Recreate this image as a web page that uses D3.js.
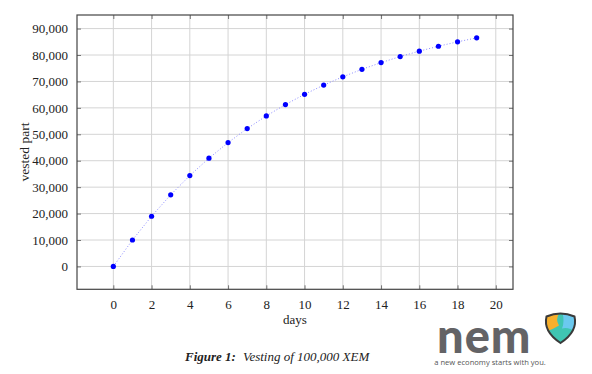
<!DOCTYPE html>
<html>
<head>
<meta charset="utf-8">
<script src="https://cdn.jsdelivr.net/npm/d3@7"></script>
<style>
  body { margin: 0; background: #fff; }
  svg { display: block; }
</style>
</head>
<body>
<svg id="chart" width="592" height="374"></svg>
<script>
// days and vested amount (10% of the unvested part vests each day)
var days = [0,1,2,3,4,5,6,7,8,9,10,11,12,13,14,15,16,17,18,19];
var vested = [0, 10000, 19000, 27100, 34390, 40951, 46856, 52170, 56953, 61258,
              65132, 68619, 71757, 74581, 77123, 79411, 81470, 83323, 84991, 86491];
var x_ticks = [0,2,4,6,8,10,12,14,16,18,20];
var y_ticks = [0,10000,20000,30000,40000,50000,60000,70000,80000,90000];

var svg = d3.select("#chart");
var plot_l = 77, plot_r = 513, plot_t = 15, plot_b = 289.3;

//pgfplots style: limits enlarged by 10% of the data range
var x = d3.scaleLinear().domain([-1.9, 20.9]).range([plot_l, plot_r]);
var y = d3.scaleLinear().domain([-8649, 95140]).range([plot_b, plot_t]);

var serif = "'Liberation Serif', 'DejaVu Serif', serif";

//Grid lines
svg.append("g").selectAll("line")
  .data(x_ticks).enter().append("line")
  .attr("x1", d => x(d)).attr("x2", d => x(d))
  .attr("y1", plot_t).attr("y2", plot_b)
  .attr("stroke", "#d4d4d4").attr("stroke-width", 1);

svg.append("g").selectAll("line")
  .data(y_ticks).enter().append("line")
  .attr("x1", plot_l).attr("x2", plot_r)
  .attr("y1", d => y(d)).attr("y2", d => y(d))
  .attr("stroke", "#d4d4d4").attr("stroke-width", 1);

//Axes with inward ticks on all four sides
var axB = svg.append("g").attr("transform", "translate(0," + plot_b + ")")
  .call(d3.axisBottom(x).tickValues(x_ticks).tickSizeInner(-4).tickSizeOuter(0).tickPadding(10));
var axT = svg.append("g").attr("transform", "translate(0," + plot_t + ")")
  .call(d3.axisTop(x).tickValues(x_ticks).tickSizeInner(-4).tickSizeOuter(0).tickFormat(""));
var axL = svg.append("g").attr("transform", "translate(" + plot_l + ",0)")
  .call(d3.axisLeft(y).tickValues(y_ticks).tickSizeInner(-4).tickSizeOuter(0).tickPadding(9)
    .tickFormat(d3.format(",")));
var axR = svg.append("g").attr("transform", "translate(" + plot_r + ",0)")
  .call(d3.axisRight(y).tickValues(y_ticks).tickSizeInner(-4).tickSizeOuter(0).tickFormat(""));

[axB, axT, axL, axR].forEach(function(a) {
  a.select(".domain").remove();
  a.selectAll(".tick line").attr("stroke", "#555").attr("stroke-width", 0.8);
  a.selectAll("text").attr("font-family", serif).attr("font-size", 13).attr("fill", "#222");
});

//Frame
svg.append("rect")
  .attr("x", plot_l).attr("y", plot_t)
  .attr("width", plot_r - plot_l).attr("height", plot_b - plot_t)
  .attr("fill", "none").attr("stroke", "#444").attr("stroke-width", 1.2);

//Dotted line + marks
var line = d3.line().x((d, i) => x(days[i])).y(d => y(d));
svg.append("path")
  .datum(vested)
  .attr("d", line)
  .attr("fill", "none")
  .attr("stroke", "#8c8cff")
  .attr("stroke-width", 1)
  .attr("stroke-dasharray", "1,2");

svg.append("g").selectAll("circle")
  .data(vested).enter().append("circle")
  .attr("cx", (d, i) => x(days[i]))
  .attr("cy", d => y(d))
  .attr("r", 2.6)
  .attr("fill", "#0000ff");

//Axis labels
svg.append("text")
  .attr("x", (plot_l + plot_r) / 2).attr("y", 324)
  .attr("text-anchor", "middle")
  .attr("font-family", serif).attr("font-size", 13).attr("fill", "#222")
  .text("days");

svg.append("text")
  .attr("transform", "translate(29,152) rotate(-90)")
  .attr("text-anchor", "middle")
  .attr("font-family", serif).attr("font-size", 13.5).attr("fill", "#222")
  .text("vested part");

//Caption
var cap = svg.append("text")
  .attr("x", 185).attr("y", 361)
  .attr("font-family", serif).attr("font-size", 13).attr("fill", "#222");
cap.append("tspan").attr("font-weight", "bold").attr("font-style", "italic").text("Figure 1:");
cap.append("tspan").attr("font-style", "italic").attr("dx", 7).text("Vesting of 100,000 XEM");

//Logo
svg.append("text")
  .attr("x", 437).attr("y", 353)
  .attr("font-family", "Lato, 'Open Sans', sans-serif")
  .attr("font-weight", 900).attr("font-size", 47)
  .attr("letter-spacing", 1)
  .attr("fill", "#636366")
  .text("nem");

svg.append("text")
  .attr("x", 490).attr("y", 364.5)
  .attr("text-anchor", "middle")
  .attr("font-family", "'Open Sans', sans-serif")
  .attr("font-size", 7.6).attr("fill", "#555")
  .text("a new economy starts with you.");

var shield = svg.append("g").attr("transform", "translate(545,312.5)");
var shieldPath = "M1.5,4 Q15.5,-2 29.5,4 Q33,19 15.5,30.5 Q-2,19 1.5,4 Z";
shield.append("clipPath").attr("id", "shieldClip")
  .append("path").attr("d", shieldPath);
var sw = shield.append("g").attr("clip-path", "url(#shieldClip)");
sw.append("rect").attr("x", -2).attr("y", -2).attr("width", 36).attr("height", 36).attr("fill", "#3fc5b2");
sw.append("path").attr("d", "M-2,-2 L17,-2 Q9,5 14,13 Q8,17 -2,20 Z").attr("fill", "#f7af2c");
sw.append("path").attr("d", "M17,-2 L34,-2 L34,22 Q25,14 17,16 Q20,9 17,-2 Z").attr("fill", "#6bc9ef");
shield.append("path").attr("d", shieldPath)
  .attr("fill", "none").attr("stroke", "#3a3a3a").attr("stroke-width", 2);
</script>
</body>
</html>
